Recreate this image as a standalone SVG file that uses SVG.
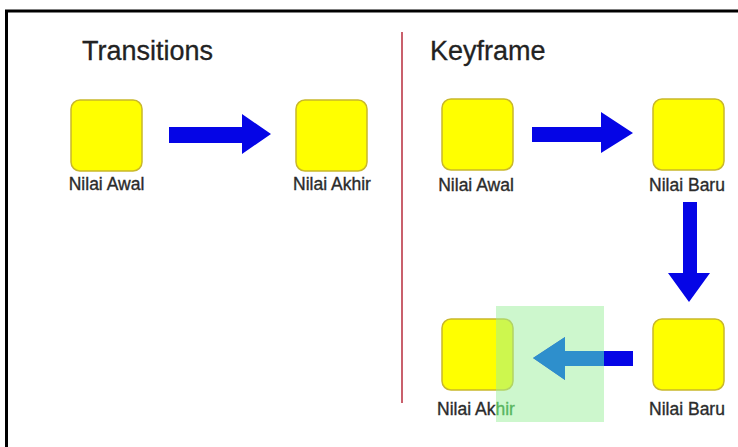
<svg xmlns="http://www.w3.org/2000/svg" width="738" height="447" viewBox="0 0 738 447">
<style>
.box{fill:#ffff00;stroke:#c9b82a;stroke-width:1.5}
.lbl{font-family:"Liberation Sans",Arial,sans-serif;font-size:17.5px;fill:#2b2b2b;stroke:#2b2b2b;stroke-width:0.35;text-anchor:middle}
.title{font-family:"Liberation Sans",Arial,sans-serif;font-size:27px;fill:#222;stroke:#222;stroke-width:0.3}
.arr{fill:#0505e6}
</style>
<defs>
<clipPath id="ov"><rect x="496" y="306" width="108" height="116"/></clipPath>
</defs>
<rect x="0" y="0" width="738" height="447" fill="#ffffff"/>
<path d="M6.5 447 V11 H738" fill="none" stroke="#000" stroke-width="3"/>
<line x1="402" y1="32" x2="402" y2="403" stroke="#c9606c" stroke-width="2"/>
<text class="title" x="82" y="60">Transitions</text>
<text class="title" x="430" y="60">Keyframe</text>
<g id="left-awal"><rect class="box" x="71" y="100" width="71" height="71" rx="9"/><text class="lbl" x="106.5" y="190">Nilai Awal</text></g>
<g id="left-akhir"><rect class="box" x="296" y="100" width="71" height="71" rx="9"/><text class="lbl" x="332" y="190">Nilai Akhir</text></g>
<g id="right-awal"><rect class="box" x="442" y="99" width="71" height="71" rx="9"/><text class="lbl" x="476" y="191">Nilai Awal</text></g>
<g id="right-baru1"><rect class="box" x="653" y="99" width="71" height="71" rx="9"/><text class="lbl" x="687" y="191">Nilai Baru</text></g>
<g id="right-baru2"><rect class="box" x="653" y="319" width="71" height="71" rx="9"/><text class="lbl" x="687" y="415">Nilai Baru</text></g>
<g id="right-akhir"><rect class="box" x="442" y="319" width="71" height="71" rx="9"/><text class="lbl" x="476" y="415">Nilai Ak<tspan fill="#127a1e" stroke="#127a1e">hir</tspan></text></g>
<g id="connectors">
<polygon class="arr" points="169,127 242,127 242,114 271,134 242,154 242,143 169,143"/>
<polygon class="arr" points="532,127 601,127 601,112 633,133 601,153 601,142 532,142"/>
<polygon class="arr" points="683,202 697,202 697,273 710,273 689,302 668,273 683,273"/>
<polygon class="arr" points="633,351 565,351 565,337 533,358 565,380 565,366 633,366"/>
</g>
<rect x="496" y="306" width="108" height="116" fill="#9bef9b" opacity="0.5"/>
<polygon clip-path="url(#ov)" fill="#2e8fcc" points="633,351 565,351 565,337 533,358 565,380 565,366 633,366"/>
</svg>
